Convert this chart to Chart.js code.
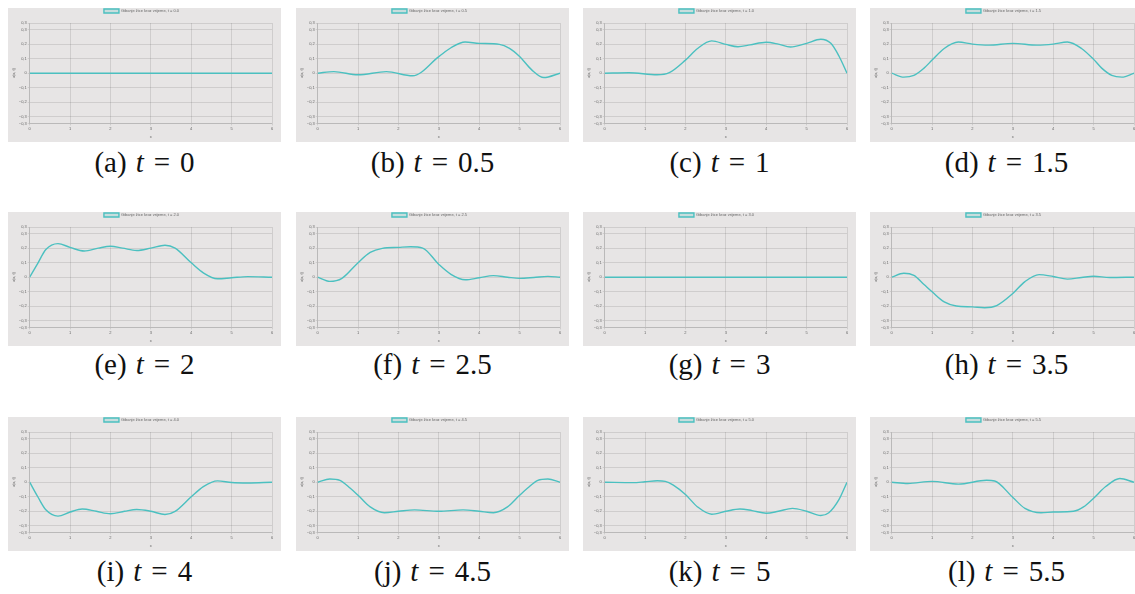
<!DOCTYPE html>
<html lang="hr">
<head>
<meta charset="utf-8">
<script src="https://cdn.jsdelivr.net/npm/chart.js@4"></script>
<style>
  body { margin: 0; width: 1135px; height: 594px; overflow: hidden; background: #fff; position: relative; }
  .panel { position: absolute; width: 273px; height: 134px; background: #e7e5e5; }
  .caption { position: absolute; width: 220px; text-align: center; font-family: 'Liberation Serif', serif;
             font-size: 29px; line-height: 29px; color: #111; white-space: nowrap; }
  .caption i { margin-left: 9px; }
  .caption .eq { margin: 0 10px; }
</style>
</head>
<body>
<script>
// Gibanje žice kroz vrijeme - u(x, t) za t = 0 ... 5.5

const vremena = [0, 0.5, 1, 1.5, 2, 2.5, 3, 3.5, 4, 4.5, 5, 5.5];
const oznake = ['a', 'b', 'c', 'd', 'e', 'f', 'g', 'h', 'i', 'j', 'k', 'l'];
const xTicke = [0, 1, 2, 3, 4, 5, 6];

// t = 0
const xA = [0, 1, 2, 3, 4, 5, 6];
const uA = [0, 0, 0, 0, 0, 0, 0];
// t = 0.5
const xB = [0, 0.4, 1, 1.7, 2.35, 3, 3.3, 3.65, 4, 4.5, 4.75, 5, 5.3, 5.6, 6];
const uB = [0, 0.011, -0.011, 0.011, -0.018, 0.114, 0.175, 0.214, 0.205, 0.198, 0.17, 0.114, 0.023, -0.03, 0];
// t = 1
const xC = [0, 0.6, 1.3, 1.6, 2, 2.3, 2.65, 3, 3.3, 3.6, 4, 4.3, 4.6, 5, 5.35, 5.6, 5.8, 6];
const uC = [0, 0.003, -0.011, 0.004, 0.09, 0.17, 0.222, 0.198, 0.182, 0.195, 0.213, 0.2, 0.18, 0.205, 0.233, 0.205, 0.118, 0];
// t = 1.5
const xD = [0, 0.3, 0.55, 0.8, 1, 1.3, 1.65, 2, 2.4, 3, 3.6, 4, 4.35, 4.7, 5, 5.2, 5.45, 5.7, 6];
const uD = [0, -0.027, -0.015, 0.035, 0.09, 0.17, 0.214, 0.2, 0.193, 0.205, 0.193, 0.2, 0.214, 0.17, 0.095, 0.035, -0.015, -0.027, 0];
// t = 2
const xE = [0, 0.2, 0.4, 0.7, 1, 1.35, 1.7, 2, 2.3, 2.65, 3, 3.35, 3.6, 4, 4.3, 4.65, 5, 5.4, 6];
const uE = [0, 0.095, 0.19, 0.231, 0.205, 0.18, 0.2, 0.213, 0.2, 0.184, 0.2, 0.22, 0.2, 0.099, 0.03, -0.011, -0.004, 0.004, 0];
// t = 2.5
const xF = [0, 0.3, 0.6, 1, 1.3, 1.6, 2, 2.3, 2.6, 3, 3.3, 3.65, 4, 4.35, 4.7, 5, 5.35, 5.7, 6];
const uF = [0, -0.029, -0.008, 0.1, 0.17, 0.198, 0.205, 0.209, 0.2, 0.088, 0.02, -0.018, -0.004, 0.011, 0, -0.008, -0.002, 0.006, 0];
// t = 3
const xG = [0, 1, 2, 3, 4, 5, 6];
const uG = [0, 0, 0, 0, 0, 0, 0];
// t = 3.5
const xH = [0, 0.3, 0.55, 0.8, 1, 1.3, 1.6, 2, 2.3, 2.6, 3, 3.3, 3.65, 4, 4.35, 4.7, 5, 5.4, 6];
const uH = [0, 0.027, 0.012, -0.05, -0.1, -0.17, -0.198, -0.204, -0.21, -0.195, -0.112, -0.03, 0.018, 0.005, -0.013, -0.002, 0.007, -0.002, 0];
// t = 4
const xI = [0, 0.2, 0.4, 0.7, 1, 1.3, 1.65, 2, 2.35, 2.65, 3, 3.35, 3.6, 4, 4.3, 4.65, 5, 5.4, 6];
const uI = [0, -0.1, -0.19, -0.233, -0.205, -0.184, -0.2, -0.217, -0.2, -0.188, -0.2, -0.222, -0.2, -0.1, -0.03, 0.009, -0.002, -0.005, 0];
// t = 4.5
const xJ = [0, 0.3, 0.55, 0.8, 1, 1.3, 1.65, 2, 2.4, 3, 3.6, 4, 4.35, 4.7, 5, 5.2, 5.45, 5.7, 6];
const uJ = [0, 0.022, 0.012, -0.04, -0.09, -0.17, -0.21, -0.2, -0.19, -0.2, -0.19, -0.2, -0.21, -0.17, -0.09, -0.04, 0.012, 0.022, 0];
// t = 5
const xK = [0, 0.7, 1, 1.3, 1.5, 1.7, 2, 2.3, 2.65, 3, 3.35, 3.65, 4, 4.3, 4.65, 5, 5.35, 5.55, 5.8, 6];
const uK = [0, -0.003, 0.003, 0.01, 0.006, -0.02, -0.085, -0.17, -0.22, -0.2, -0.184, -0.195, -0.213, -0.2, -0.18, -0.2, -0.229, -0.21, -0.12, 0];
// t = 5.5
const xL = [0, 0.4, 1, 1.65, 2.35, 2.55, 3, 3.3, 3.7, 4, 4.5, 4.75, 5, 5.3, 5.65, 6];
const uL = [0, -0.009, 0.006, -0.013, 0.013, 0.008, -0.105, -0.18, -0.21, -0.205, -0.2, -0.17, -0.11, -0.03, 0.025, 0];

const sviX = [xA, xB, xC, xD, xE, xF, xG, xH, xI, xJ, xK, xL];
const sviU = [uA, uB, uC, uD, uE, uF, uG, uH, uI, uJ, uK, uL];

// raspored panela na stranici
const stupci = [8, 296, 583, 870];
const redovi = [8, 212, 417];
const potpisiY = [148, 350, 557];

Chart.defaults.font.family = "Arial, 'Liberation Sans', sans-serif";
Chart.defaults.font.size = 4;
Chart.defaults.color = '#666';

function nacrtajPanel(i) {
    const stupac = i % 4;
    const red = Math.floor(i / 4);

    const panel = document.createElement('div');
    panel.className = 'panel';
    panel.style.left = stupci[stupac] + 'px';
    panel.style.top = redovi[red] + 'px';
    const canvas = document.createElement('canvas');
    canvas.width = 273;
    canvas.height = 134;
    panel.appendChild(canvas);
    document.body.appendChild(panel);

    const potpis = document.createElement('div');
    potpis.className = 'caption';
    potpis.style.left = (stupci[stupac] + 136.5 - 110) + 'px';
    potpis.style.top = potpisiY[red] + 'px';
    potpis.innerHTML = `(${oznake[i]})<i>t</i><span class="eq">=</span>${vremena[i]}`;
    document.body.appendChild(potpis);

    const xs = sviX[i];
    const us = sviU[i];

    new Chart(canvas, {
        type: 'line',
        data: {
            datasets: [{
                label: `Gibanje žice kroz vrijeme, t = ${vremena[i].toFixed(1)}`,
                data: xs.map((x, k) => ({ x: x, y: us[k] })),
                borderColor: 'rgb(75, 192, 192)',
                backgroundColor: 'rgba(75, 192, 192, 0.2)',
                borderWidth: 1.4,
                pointRadius: 0,
                cubicInterpolationMode: 'monotone',
                fill: false
            }]
        },
        options: {
            responsive: false,
            animation: false,
            locale: 'hr',
            layout: { padding: { left: 3, right: 9, top: 0, bottom: 3 } },
            plugins: {
                legend: {
                    display: true,
                    position: 'top',
                    labels: { boxWidth: 15, boxHeight: 4, padding: 1, font: { size: 4 } }
                },
                tooltip: { enabled: false }
            },
            scales: {
                x: {
                    type: 'linear',
                    min: xTicke[0],
                    max: xTicke[xTicke.length - 1],
                    ticks: { stepSize: 1, padding: 1, maxRotation: 0 },
                    grid: { tickLength: 2 },
                    title: { display: true, text: 'x', padding: { top: 2, bottom: 0 } }
                },
                y: {
                    min: -0.345,
                    max: 0.345,
                    ticks: { stepSize: 0.1, padding: 1 },
                    grid: { tickLength: 2 },
                    title: { display: true, text: 'u(x, t)', padding: { top: 0, bottom: 2 } }
                }
            }
        }
    });
}

for (let i = 0; i < vremena.length; i++) {
    nacrtajPanel(i);
}
</script>
</body>
</html>
